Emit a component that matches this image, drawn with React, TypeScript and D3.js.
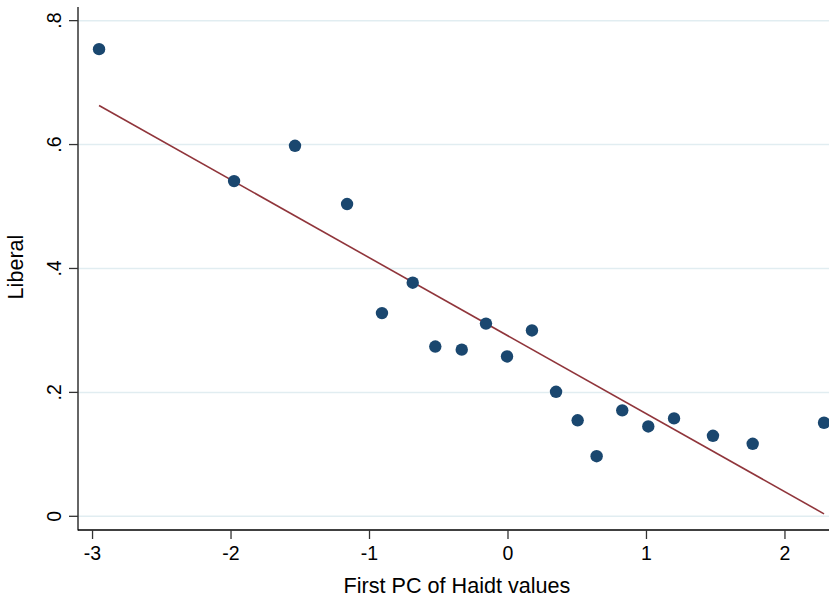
import React from "react";
import * as d3 from "d3";

const pcValues = [-2.953, -1.978, -1.538, -1.162, -0.91, -0.688, -0.525, -0.334, -0.159, -0.007, 0.173, 0.347, 0.503, 0.64, 0.825, 1.013, 1.199, 1.48, 1.767, 2.282];
const liberalValues = [0.754, 0.541, 0.598, 0.504, 0.328, 0.377, 0.274, 0.269, 0.311, 0.258, 0.3, 0.201, 0.155, 0.097, 0.171, 0.145, 0.158, 0.13, 0.117, 0.151];
const fitX = [-2.953, 2.282];
const fitY = [0.663, 0.004];
const xTicks = [-3, -2, -1, 0, 1, 2];
const yTicks = [0, 0.2, 0.4, 0.6, 0.8];
const yTickLabels = ["0", ".2", ".4", ".6", ".8"];

const W = 829;
const H = 601;
const left = 78;
const right = 829;
const top = 7;
const bottom = 530;

export default function App() {
  const x = d3.scaleLinear().domain([-3.105, 2.318]).range([left, right]);
  const y = d3.scaleLinear().domain([-0.0221, 0.822]).range([bottom, top]);
  const line = d3
    .line<number>()
    .x((_, i) => x(fitX[i]))
    .y((d) => y(d));
  const font = "'Liberation Sans', Arial, Helvetica, sans-serif";
  return (
    <svg
      width={W}
      height={H}
      style={{ position: "absolute", left: 0, top: 0, background: "#fff" }}
      fontFamily={font}
    >
      <rect x={0} y={0} width={W} height={H} fill="#fff" />
      {yTicks.map((t) => (
        <line key={"g" + t} x1={left} x2={right} y1={y(t)} y2={y(t)} stroke="#e1edf1" strokeWidth={1.5} />
      ))}
      <path d={line(fitY) || ""} fill="none" stroke="#90353b" strokeWidth={1.6} />
      {pcValues.map((v, i) => (
        <circle key={i} cx={x(v)} cy={y(liberalValues[i])} r={6.2} fill="#1a476f" />
      ))}
      <line x1={left} x2={left} y1={top} y2={bottom + 0.5} stroke="#333" strokeWidth={1.5} />
      <line x1={left} x2={right} y1={bottom} y2={bottom} stroke="#000" strokeWidth={1.5} />
      {yTicks.map((t, i) => (
        <g key={"y" + t}>
          <line x1={left - 9} x2={left} y1={y(t)} y2={y(t)} stroke="#333" strokeWidth={1.3} />
          <text
            transform={`translate(61,${y(t)}) rotate(-90)`}
            textAnchor="middle"
            fontSize={19.5}
            fill="#000"
          >
            {yTickLabels[i]}
          </text>
        </g>
      ))}
      {xTicks.map((t) => (
        <g key={"x" + t}>
          <line x1={x(t)} x2={x(t)} y1={bottom} y2={bottom + 9} stroke="#333" strokeWidth={1.3} />
          <text x={x(t)} y={560} textAnchor="middle" fontSize={19.5} fill="#000">
            {String(t)}
          </text>
        </g>
      ))}
      <text x={457} y={593} textAnchor="middle" fontSize={21.6} fill="#000">
        First PC of Haidt values
      </text>
      <text transform={`translate(23.3,267) rotate(-90)`} textAnchor="middle" fontSize={21.6} fill="#000">
        Liberal
      </text>
    </svg>
  );
}
